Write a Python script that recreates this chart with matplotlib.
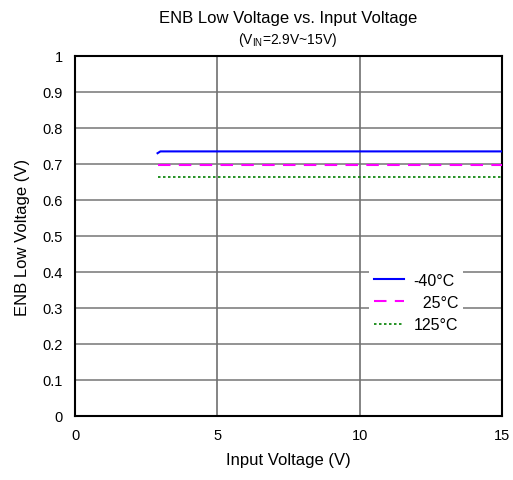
import matplotlib
matplotlib.use("Agg")
import matplotlib.pyplot as plt

plt.rcParams['font.family'] = ['Liberation Sans', 'DejaVu Sans']
plt.rcParams['mathtext.fontset'] = 'custom'
plt.rcParams['mathtext.rm'] = 'Liberation Sans'
plt.rcParams['mathtext.it'] = 'Liberation Sans'

vin = [2.9, 3.0, 5, 10, 15]
t_m40 = [0.730, 0.735, 0.735, 0.735, 0.735]
t_25 = [0.697, 0.697, 0.697, 0.697, 0.697]
t_125 = [0.663, 0.663, 0.663, 0.663, 0.663]
labels = ['-40°C', '\u200725°C', '125°C']
xticks = [0, 5, 10, 15]
yticks = [0, 0.1, 0.2, 0.3, 0.4, 0.5, 0.6, 0.7, 0.8, 0.9, 1]

fig = plt.figure(figsize=(5.13, 4.81), dpi=100)
ax = fig.add_axes([75/513, 1-417/481, 427/513, 360/481])

for y in yticks[1:-1]:
    ax.axhline(y, color='#808080', lw=1.2, zorder=1)
for x in xticks[1:-1]:
    ax.axvline(x, color='#707070', lw=1.2, zorder=1)

ax.plot(vin, t_m40, color='#0000ff', lw=1.5, label=labels[0], zorder=3)
ax.plot(vin, t_25, color='#ff00ff', lw=1.5, ls=(0, (6, 4)), label=labels[1], zorder=3)
ax.plot(vin, t_125, color='#008000', lw=1.2, ls=(0, (1.5, 1.5)), label=labels[2], zorder=3)

ax.set_xlim(0, 15)
ax.set_ylim(0, 1)
ax.set_xticks(xticks)
ax.set_xticklabels([str(v) for v in xticks])
ax.set_yticks(yticks)
ax.set_yticklabels(['0', '0.1', '0.2', '0.3', '0.4', '0.5', '0.6', '0.7', '0.8', '0.9', '1'])
ax.tick_params(length=0, labelsize=10.5, pad=9)
ax.tick_params(axis='y', pad=9)
for s in ax.spines.values():
    s.set_linewidth(1.5)
    s.set_color('black')

ax.set_xlabel('Input Voltage (V)', fontsize=12, labelpad=7)
ax.set_ylabel('ENB Low Voltage (V)', fontsize=12, labelpad=9)

fig.text(288/513, 1-19/481, 'ENB Low Voltage vs. Input Voltage', ha='center', va='center', fontsize=12)
fig.text(288/513, 1-40/481, r'(V$_{\mathrm{IN}}$=2.9V~15V)', ha='center', va='center', fontsize=10)

leg = ax.legend(loc='upper left', bbox_to_anchor=((361-75)/427, (417-261)/360),
                frameon=True, fontsize=11.5, handlelength=1.9, handletextpad=0.6,
                labelspacing=0.45, borderpad=0.3)
leg.get_frame().set_facecolor('white')
leg.get_frame().set_edgecolor('none')
leg.get_frame().set_alpha(1)
leg.set_zorder(5)

fig.savefig('out.png', dpi=100)
